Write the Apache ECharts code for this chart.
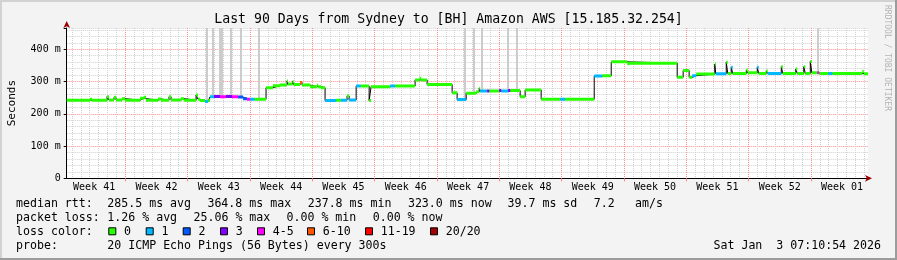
<!DOCTYPE html>
<html><head><meta charset="utf-8">
<script src="https://cdn.jsdelivr.net/npm/echarts@6/dist/echarts.min.js"></script>
<style>html,body{margin:0;padding:0;background:#f3f3f3}#c{width:897px;height:260px}</style>
</head><body><div id="c"></div>
<script>
// ---------------- data ----------------
const titleText = 'Last 90 Days from Sydney to [BH] Amazon AWS [15.185.32.254]';
const weekLabels = ['Week 41','Week 42','Week 43','Week 44','Week 45','Week 46','Week 47','Week 48','Week 49','Week 50','Week 51','Week 52','Week 01'];
const yTickValues = [0, 100, 200, 300, 400];
const yTickLabels = ['0', '100 m', '200 m', '300 m', '400 m'];
// median rtt (ms) held from each day (days since start of the 90 day window)
const medianDays = [0,2.62,2.84,4.53,4.75,5.31,5.54,6.21,6.55,8.24,8.69,8.91,10.26,10.60,11.49,11.72,12.84,13.18,
  14.53,14.75,14.98,15.54,15.88,16.10,16.55,17.22,17.87,18.57,19.25,19.81,20.26,20.6,21.1,
  22.39,23.17,23.96,24.75,24.86,25.37,25.48,26.21,26.44,27.34,28.12,28.24,28.57,
  29.02,30.26,30.8,31.49,31.72,32.51,33.0,33.97,34.19,36.33,36.89,39.13,39.64,39.81,40.48,
  43.29,43.85,44.87,45.99,46.33,46.44,47.23,47.46,48.58,48.80,49.59,49.81,50.93,51.49,
  53.29,55.43,55.99,59.25,60.15,61.16,62.96,63.18,68.57,69.24,69.91,70.25,70.70,
  72.79,72.90,74.08,74.25,74.64,74.81,76.33,76.49,77.56,77.73,78.57,78.74,80.26,80.43,
  81.89,82.06,82.79,82.96,83.52,83.69,84.31,84.53,85.54,86.0,89.36,89.53];
const medianMs = [242,245,242,253,243,251,243,247,242,248,251,242,246,242,253,243,247,242,
  258,245,241,238,241,253,254,253,254,253,252,247,245,245,245,
  281,287,289,302,292,300,291,297,289,284,289,284,281,
  241,242,242,255,243,286,286,241,284,286,286,305,310,305,291,
  265,244,264,268,279,271,271,271,272,271,272,272,253,274,
  245,245,245,317,318,361,355,357,313,334,313,318,323,
  354,324,360,325,344,325,336,327,344,325,333,325,346,325,
  339,325,346,325,362,327,327,325,325,325,331,324];
// loss class index per step: 0 -> "0", 1 -> "1", 2 -> "2", 3 -> "3", 4 -> "4-5", 5 -> "6-10", 6 -> "11-19", 7 -> "20/20"
const lossClass = [0,0,0,0,0,0,0,0,0,0,0,0,0,0,0,0,0,0,
  0,0,0,1,0,1,3,4,3,4,2,2,4,1,0,
  0,0,0,0,0,0,0,5,0,0,0,0,0,
  1,0,1,0,1,1,0,0,0,1,0,0,0,0,0,
  0,1,0,0,0,1,3,0,3,1,3,0,0,0,
  0,1,0,1,0,0,0,0,0,0,0,1,0,
  0,1,0,0,1,0,0,0,1,0,0,1,0,0,
  0,0,0,0,0,0,4,0,1,0,0,0];
const endDay = 90;
// days where the ping smoke reaches above the top of the graph
const smokeDays = [15.78,16.46,17.22,17.48,18.46,19.58,21.55,44.75,45.76,46.66,49.58,50.60,84.42];
const lossNames = ['0','1','2','3','4-5','6-10','11-19','20/20'];
const lossColors = ['#26ff00','#00b8ff','#0059ff','#7e00ff','#ff00ff','#ff5500','#ff0000','#a10000'];
const statRows = [
  [['median rtt:',16],['285.5 ms avg',107.3],['364.8 ms max',207.4],['237.8 ms min',307.7],['323.0 ms now',407.9],['39.7 ms sd',507.5],['7.2',593.8],['am/s',635]],
  [['packet loss:',16],['1.26 % avg',107.3],['25.06 % max',193.5],['0.00 % min',286.5],['0.00 % now',372.7]],
  [['loss color:',16]],
  [['probe:',16],['20 ICMP Echo Pings (56 Bytes) every 300s',107.3]]
];
const dateText = 'Sat Jan  3 07:10:54 2026';
const creditText = 'RRDTOOL / TOBI OETIKER';

// ---------------- layout ----------------
const mono = 'DejaVu Sans Mono';
const yMax = 466;
const slotsPerDay = 12, dayLineOffset = 7, slotsPerWeek = 84, labelOffset = 37, weekLineOffset = 79;
const slots = Array.from({length: 90 * slotsPerDay + 1}, (_, i) => String(i));
const rowY = [204, 218.3, 232.3, 246];
const lossBoxX = [108.3, 145.7, 182.7, 220, 257, 307, 365, 430];
const minorGrid = '#d0d0d0', majorGrid = '#ff8c8c';

function medianAt(d) {
  let v = medianMs[0];
  for (let i = 0; i < medianDays.length; i++) if (medianDays[i] <= d) v = medianMs[i];
  return v;
}

const stepData = medianDays.map((d, i) => [d, medianMs[i]]);
stepData.push([endDay, medianMs[medianMs.length - 1]]);

const lossSeries = lossNames.map((name, c) => {
  const data = [];
  for (let i = 0; i < medianDays.length; i++) {
    if (lossClass[i] !== c) continue;
    const x1 = i + 1 < medianDays.length ? medianDays[i + 1] : endDay;
    data.push([medianDays[i], medianMs[i]], [x1, medianMs[i]], [x1, '-']);
  }
  return {
    name: 'loss ' + name, type: 'line', xAxisIndex: 2, yAxisIndex: 0,
    data, showSymbol: false, symbol: 'none', connectNulls: false,
    lineStyle: {color: lossColors[c], width: 3, cap: 'butt'}, z: 5, silent: true
  };
});

const chart = echarts.init(document.getElementById('c'), null, {renderer: 'canvas', width: 897, height: 260});

const graphics = [
  {type: 'rect', shape: {x: 0, y: 0, width: 897, height: 2}, style: {fill: '#d2d2d2'}, silent: true},
  {type: 'rect', shape: {x: 0, y: 0, width: 2, height: 260}, style: {fill: '#d2d2d2'}, silent: true},
  {type: 'rect', shape: {x: 0, y: 258, width: 897, height: 2}, style: {fill: '#9c9c9c'}, silent: true},
  {type: 'rect', shape: {x: 895, y: 0, width: 2, height: 260}, style: {fill: '#9c9c9c'}, silent: true},
  {type: 'text', x: 887, y: 5, rotation: -Math.PI / 2, silent: true,
   style: {text: creditText, fontFamily: mono, fontSize: 8, fill: '#b4b4b4', align: 'left', verticalAlign: 'middle'}},
  {type: 'text', x: 881, y: rowY[3], silent: true,
   style: {text: dateText, fontFamily: mono, fontSize: 11.6, fill: '#000', align: 'right', verticalAlign: 'middle'}}
];
statRows.forEach((row, r) => row.forEach(([t, x]) => graphics.push({
  type: 'text', x, y: rowY[r], silent: true,
  style: {text: t, fontFamily: mono, fontSize: 11.6, fill: '#000', align: 'left', verticalAlign: 'middle'}
})));
lossNames.forEach((n, c) => {
  graphics.push({type: 'rect', shape: {x: lossBoxX[c] + 0.5, y: rowY[2] - 4.5, width: 7, height: 7},
    style: {fill: lossColors[c], stroke: '#000', lineWidth: 1}, silent: true});
  graphics.push({type: 'text', x: lossBoxX[c] + 15.7, y: rowY[2], silent: true,
    style: {text: n, fontFamily: mono, fontSize: 11.6, fill: '#000', align: 'left', verticalAlign: 'middle'}});
});

chart.setOption({
  animation: false,
  backgroundColor: '#f3f3f3',
  title: {text: titleText, left: 'center', top: 13, padding: 0,
    textStyle: {fontFamily: mono, fontSize: 13.2, fontWeight: 'normal', color: '#000'}},
  grid: {left: 66.7, right: 29, top: 28, bottom: 81.7, show: true, backgroundColor: '#ffffff', borderWidth: 0,
    containLabel: false, outerBoundsMode: 'none'},
  xAxis: [
    {type: 'category', data: slots, boundaryGap: false, position: 'bottom',
     axisLine: {show: true, lineStyle: {color: '#000', width: 1}},
     axisTick: {show: false},
     axisLabel: {interval: (i) => i >= labelOffset && (i - labelOffset) % slotsPerWeek === 0,
       formatter: (v, i) => weekLabels[Math.round((i - labelOffset) / slotsPerWeek)] || '',
       fontFamily: mono, fontSize: 10, color: '#000', margin: 4},
     // daily lines; every 7th one is the week boundary
     splitLine: {show: true, interval: (i) => i >= dayLineOffset && (i - dayLineOffset) % slotsPerDay === 0,
       lineStyle: {color: [minorGrid, minorGrid, minorGrid, minorGrid, minorGrid, minorGrid, majorGrid], type: [1, 1], width: 1}}},
    {type: 'category', data: slots, boundaryGap: false, position: 'bottom',
     axisLine: {show: true, symbol: ['none', 'arrow'], symbolSize: [5, 7], symbolOffset: [0, 4],
       lineStyle: {color: '#9a0000', width: 0}},
     axisTick: {show: true, length: 3, interval: (i) => i >= weekLineOffset && (i - weekLineOffset) % slotsPerWeek === 0,
       lineStyle: {color: '#ff8080'}},
     axisLabel: {show: false},
     splitLine: {show: false}},
    {type: 'value', min: 0, max: endDay, show: false}
  ],
  yAxis: [
    {type: 'value', min: 0, max: yMax, interval: 20, position: 'left',
     name: 'Seconds', nameLocation: 'middle', nameGap: 49, nameRotate: 90,
     nameTextStyle: {fontFamily: mono, fontSize: 11, color: '#000'},
     axisLine: {show: true, lineStyle: {color: '#000', width: 1}},
     axisTick: {show: false},
     axisLabel: {formatter: (v) => { const k = yTickValues.indexOf(v); return k >= 0 ? yTickLabels[k] : ''; },
       fontFamily: mono, fontSize: 10, color: '#000', margin: 6, showMaxLabel: false},
     // every 5th line (100 ms) is a major line
     splitLine: {show: true, lineStyle: {color: [majorGrid, minorGrid, minorGrid, minorGrid, minorGrid], type: [1, 1], width: 1}}},
    {type: 'value', min: 0, max: yMax, interval: 100, position: 'left',
     axisLine: {show: true, symbol: ['none', 'arrow'], symbolSize: [5, 7], symbolOffset: [0, 7],
       lineStyle: {color: '#9a0000', width: 0}},
     axisTick: {show: true, length: 3, lineStyle: {color: '#000'}},
     axisLabel: {show: false},
     splitLine: {show: false}}
  ],
  series: [
    {name: 'smoke', type: 'custom', xAxisIndex: 2, yAxisIndex: 0, silent: true, z: 2,
     data: smokeDays.map(d => [d, medianAt(d)]),
     renderItem: (params, api) => {
       const top = api.coord([api.value(0), yMax]);
       const bot = api.coord([api.value(0), api.value(1)]);
       return {type: 'rect', shape: {x: Math.round(top[0]) - 1, y: top[1], width: 2, height: bot[1] - top[1]},
         style: {fill: '#cccccc'}};
     }},
    {name: 'median rtt', type: 'line', xAxisIndex: 2, yAxisIndex: 0, step: 'end', data: stepData,
     showSymbol: false, symbol: 'none', lineStyle: {color: '#000', width: 1}, z: 4, silent: true},
    ...lossSeries
  ],
  graphic: graphics
});
</script></body></html>
